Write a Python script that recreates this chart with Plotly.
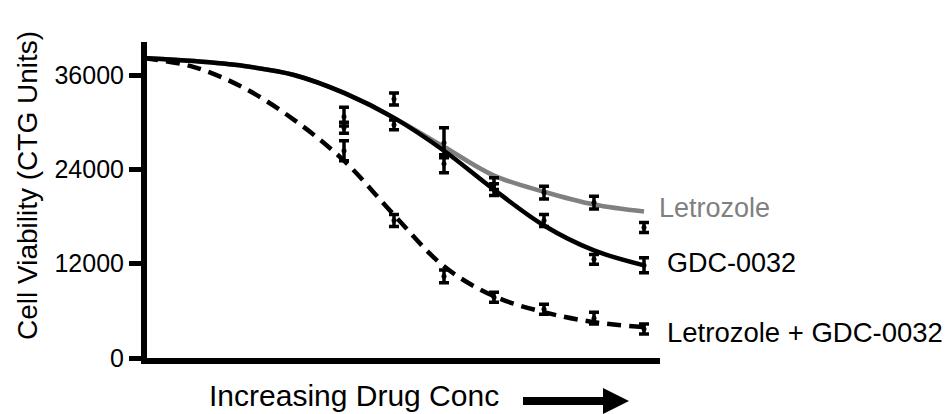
import plotly.graph_objects as go

# ---- data ----
dose_step = [4, 5, 6, 7, 8, 9, 10]

letrozole_mean = [30700, 32960, 27380, 22180, 21040, 19770, 16610]
letrozole_err = [1200, 760, 1900, 760, 820, 820, 630]

gdc_mean = [29280, 29660, 24720, 21420, 17490, 12550, 11790]
gdc_err = [700, 630, 1140, 760, 760, 630, 950]

combo_mean = [26370, 17490, 10390, 7730, 6210, 5070, 3680]
combo_err = [1270, 760, 820, 630, 630, 760, 630]

# fitted curves at each dose step
curve_step = [0, 1, 2, 3, 4, 5, 6, 7, 8, 9, 10]
letrozole_curve = [38150, 37770, 37140, 36000, 33720, 30550, 26870, 23200, 21150, 19520, 18630]
gdc_curve = [38150, 37770, 37140, 36000, 33720, 30550, 26370, 21420, 16860, 13690, 11790]
combo_curve = [38150, 37010, 34350, 30300, 25100, 18200, 11660, 7860, 5830, 4560, 3930]

y_ticks = [0, 12000, 24000, 36000]
y_tick_text = ["0", "12000", "24000", "36000"]

FONT = "Liberation Sans, Arial, sans-serif"
GRAY = "#808080"

fig = go.Figure()

# curves
fig.add_trace(go.Scatter(x=curve_step, y=letrozole_curve, mode="lines",
                         line=dict(color=GRAY, width=4.5, shape="spline", smoothing=1.0),
                         hoverinfo="skip", showlegend=False))
fig.add_trace(go.Scatter(x=curve_step, y=gdc_curve, mode="lines",
                         line=dict(color="black", width=4.5, shape="spline", smoothing=1.0),
                         hoverinfo="skip", showlegend=False))
fig.add_trace(go.Scatter(x=curve_step, y=combo_curve, mode="lines",
                         line=dict(color="black", width=4.5, shape="spline", smoothing=1.0,
                                   dash="14px,8px"),
                         hoverinfo="skip", showlegend=False))

# data points with error bars
for mean, err in [(letrozole_mean, letrozole_err), (gdc_mean, gdc_err), (combo_mean, combo_err)]:
    fig.add_trace(go.Scatter(
        x=dose_step, y=mean, mode="markers",
        marker=dict(color="black", size=5),
        error_y=dict(type="data", array=err, visible=True, color="black",
                     thickness=3.5, width=5),
        showlegend=False))

L, R, T, B = 147, 288, 42, 56
W, H = 948, 414
pw = W - L - R
ph = H - T - B
def px(xp):
    return (xp - L) / pw
def py(yp):
    return (H - B - yp) / ph

annotations = [
    dict(text="Letrozole", x=px(657), y=19140, xref="paper", yref="y",
         showarrow=False, font=dict(family=FONT, size=27, color=GRAY),
         xanchor="left", yanchor="middle"),
    dict(text="GDC-0032", x=px(665), y=12040, xref="paper", yref="y",
         showarrow=False, font=dict(family=FONT, size=27, color="black"),
         xanchor="left", yanchor="middle"),
    dict(text="Letrozole + GDC-0032", x=px(665), y=3200, xref="paper", yref="y",
         showarrow=False, font=dict(family=FONT, size=27.5, color="black"),
         xanchor="left", yanchor="middle"),
    dict(text="Cell Viability (CTG Units)", x=px(27), y=py(186), xref="paper", yref="paper",
         textangle=-90, showarrow=False, font=dict(family=FONT, size=28, color="black"),
         xanchor="center", yanchor="middle"),
    dict(text="Increasing Drug Conc", x=px(353.5), y=py(395), xref="paper", yref="paper",
         showarrow=False, font=dict(family=FONT, size=30, color="black"),
         xanchor="center", yanchor="middle"),
]

shapes = [
    dict(type="line", xref="paper", yref="paper", x0=px(523), x1=px(606), y0=py(401), y1=py(401),
         line=dict(color="black", width=8)),
    dict(type="path", xref="paper", yref="paper",
         path=f"M {px(603)},{py(388)} L {px(629)},{py(401)} L {px(603)},{py(414)} Z",
         fillcolor="black", line=dict(color="black", width=0)),
]

fig.update_layout(
    width=W, height=H,
    margin=dict(l=L, r=R, t=T, b=B),
    plot_bgcolor="white", paper_bgcolor="white",
    annotations=annotations, shapes=shapes,
    xaxis=dict(range=[0.06, 10.32], showgrid=False, zeroline=False, showticklabels=False,
               ticks="", showline=True, linecolor="black", linewidth=6),
    yaxis=dict(range=[0, 40200], showgrid=False, zeroline=False,
               tickvals=y_ticks, ticktext=y_tick_text, ticks="outside", ticklen=12,
               tickwidth=5, tickcolor="black", showline=True, linecolor="black", linewidth=6,
               tickfont=dict(family=FONT, size=25, color="black")),
)

fig.write_html("out.html")
